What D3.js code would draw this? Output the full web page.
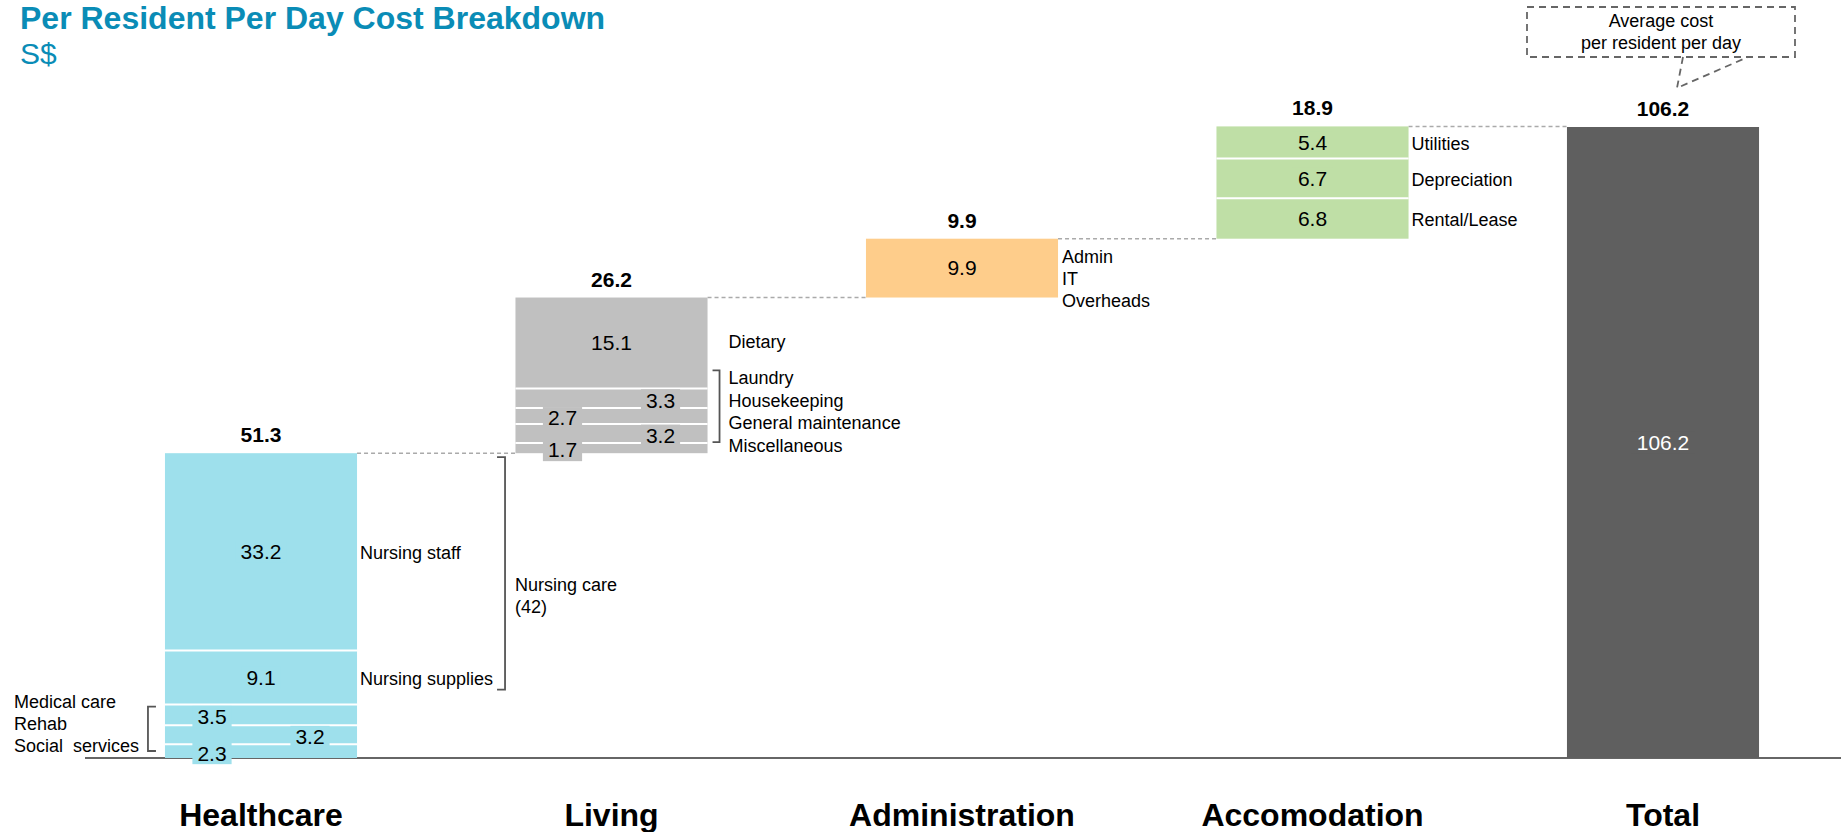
<!DOCTYPE html>
<html><head><meta charset="utf-8">
<script src="https://cdn.jsdelivr.net/npm/d3@7"></script>
<style>
html,body{margin:0;padding:0;background:#fff;}
svg text{font-family:"Liberation Sans",Arial,Helvetica,sans-serif;white-space:pre;}
</style></head>
<body><svg id="chart" width="1841" height="832"></svg>
<script>
// ---------- data ----------
const categories = ["Healthcare","Living","Administration","Accomodation","Total"];
const totals = [51.3, 26.2, 9.9, 18.9, 106.2];
// segment values, bottom to top
const healthcareValues = [2.3, 3.2, 3.5, 9.1, 33.2];
const livingValues = [1.7, 3.2, 2.7, 3.3, 15.1];
const adminValues = [9.9];
const accomValues = [6.8, 6.7, 5.4];
const totalValues = [106.2];
// side labels per segment (bottom to top); "" = none
const healthcareLabels = ["", "", "", "Nursing supplies", "Nursing staff"];
const healthcareLeftGroup = ["Medical care", "Rehab", "Social  services"];
const nursingCareLabel = ["Nursing care", "(42)"];
const livingLabels = ["", "", "", "", "Dietary"];
const livingGroup = ["Laundry", "Housekeeping", "General maintenance", "Miscellaneous"];
const adminGroup = ["Admin", "IT", "Overheads"];
const accomLabels = ["Rental/Lease", "Depreciation", "Utilities"];
const calloutText = ["Average cost", "per resident per day"];
const titleText = "Per Resident Per Day Cost Breakdown";
const unitText = "S$";
const colors = ["#9ee0ec", "#c0c0c0", "#fecd8b", "#bfdfa6", "#5f5f5f"];

// ---------- setup ----------
const svg = d3.select("#chart");
const x = d3.scaleBand().domain(categories).range([85.75, 1838.25]).paddingInner(0.452).paddingOuter(0.226);
const y = d3.scaleLinear().domain([0, 106.2]).range([758, 127]);
const bw = x.bandwidth();
const FS = 21, LS = 18;

// title
svg.append("text").attr("x", 20).attr("y", 29).attr("font-size", 32).attr("font-weight", "bold")
  .attr("fill", "#0a8cb6").text(titleText);
svg.append("text").attr("x", 20).attr("y", 64).attr("font-size", 30).attr("fill", "#0a8cb6").text(unitText);

// baseline
svg.append("line").attr("x1", 85).attr("x2", 1841).attr("y1", y(0)).attr("y2", y(0))
  .attr("stroke", "#666").attr("stroke-width", 2);

// compute bases
const segs = [healthcareValues, livingValues, adminValues, accomValues, totalValues];
const bases = [];
let cum = 0;
categories.forEach((c, i) => {
  if (i === categories.length - 1) { bases.push(0); }
  else { bases.push(cum); cum += totals[i]; }
});
const tops = categories.map((c, i) => bases[i] + totals[i]);

// connectors
for (let i = 0; i < categories.length - 1; i++) {
  svg.append("line")
    .attr("x1", x(categories[i]) + bw).attr("x2", x(categories[i + 1]))
    .attr("y1", y(tops[i])).attr("y2", y(tops[i]))
    .attr("stroke", "#aaa").attr("stroke-width", 1.5).attr("stroke-dasharray", "4,3");
}

const labelLayer = [];
categories.forEach((cat, i) => {
  const g = svg.append("g");
  const vals = segs[i];
  let b = bases[i];
  const items = [];
  let smallIdx = 0;
  vals.forEach((v, j) => {
    const y0 = b, y1 = (j === vals.length - 1) ? tops[i] : b + v;
    items.push({ v, y0, y1, small: v < 4, side: v < 4 ? (smallIdx++ % 2 === 0 ? -1 : 1) : 0 });
    b += v;
  });
  g.selectAll("rect.seg").data(items).join("rect").attr("class", "seg")
    .attr("x", x(cat)).attr("width", bw)
    .attr("y", d => y(d.y1)).attr("height", d => y(d.y0) - y(d.y1))
    .attr("fill", colors[i]);
  // white separators
  g.selectAll("line.sep").data(items.slice(1)).join("line").attr("class", "sep")
    .attr("x1", x(cat)).attr("x2", x(cat) + bw)
    .attr("y1", d => y(d.y0)).attr("y2", d => y(d.y0))
    .attr("stroke", "#fff").attr("stroke-width", 2);
  labelLayer.push({ g, items, i, cat });
});

// value labels with background boxes
labelLayer.forEach(({ g, items, i, cat }) => {
  const cx = x(cat) + bw / 2;
  items.forEach(d => {
    const lx = cx + d.side * 49;
    const ly = (y(d.y0) + y(d.y1)) / 2 + (d.small ? 2 : 0);
    const t = g.append("text").attr("x", lx).attr("y", ly).attr("dy", "0.35em")
      .attr("text-anchor", "middle").attr("font-size", FS)
      .attr("fill", i === 4 ? "#fff" : "#000").text(d3.format(".1f")(d.v));
    const w = t.node().getComputedTextLength() + 10;
    g.insert("rect", () => t.node()).attr("x", lx - w / 2).attr("y", ly - 11)
      .attr("width", w).attr("height", 22).attr("fill", colors[i]);
  });
  // total above
  svg.append("text").attr("x", cx).attr("y", y(tops[i]) - 11).attr("text-anchor", "middle")
    .attr("font-size", FS).attr("font-weight", "bold").text(d3.format(".1f")(totals[i]));
});

// category axis
const axis = svg.append("g").attr("transform", `translate(0,${y(0)})`)
  .call(d3.axisBottom(x).tickSize(0));
axis.select(".domain").remove();
axis.selectAll("text").attr("y", 68).attr("dy", 0).attr("font-size", 32).attr("font-weight", "bold")
  .attr("fill", "#000").style("font-family", '"Liberation Sans",Arial,sans-serif');

function sideText(xp, yp, txt, anchor) {
  return svg.append("text").attr("x", xp).attr("y", yp).attr("font-size", LS)
    .attr("text-anchor", anchor || "start").attr("fill", "#000").text(txt);
}
function segCenter(valsArr, base, j) {
  const y0 = base + d3.sum(valsArr.slice(0, j));
  return (y(y0) + y(y0 + valsArr[j])) / 2;
}
const bracketStroke = "#555";

// Healthcare side labels
{
  const xr = x("Healthcare") + bw;
  healthcareLabels.forEach((t, j) => {
    if (t) sideText(xr + 3, segCenter(healthcareValues, 0, j) + 1, t).attr("dy", "0.35em");
  });
  // nursing care bracket
  const bx = xr + 148, top = y(totals[0]) + 4, bot = y(healthcareValues[0] + healthcareValues[1] + healthcareValues[2]) - 15;
  svg.append("path").attr("d", `M${bx - 8},${top}H${bx}V${bot}H${bx - 8}`)
    .attr("fill", "none").attr("stroke", bracketStroke).attr("stroke-width", 1.8);
  nursingCareLabel.forEach((t, k) => sideText(bx + 10, (top + bot) / 2 + 18 + k * 22, t));
  // left group
  const xl = x("Healthcare");
  const ltop = y(healthcareValues[0] + healthcareValues[1] + healthcareValues[2]) + 2, lbot = y(0) - 7;
  svg.append("path").attr("d", `M${xl - 9},${ltop}H${xl - 17}V${lbot}H${xl - 9}`)
    .attr("fill", "none").attr("stroke", bracketStroke).attr("stroke-width", 1.8);
  healthcareLeftGroup.forEach((t, k) => sideText(14, ltop + 1 + k * 22.4, t));
}

// Living side labels
{
  const xr = x("Living") + bw;
  const base = bases[1];
  livingLabels.forEach((t, j) => {
    if (t) sideText(xr + 21, segCenter(livingValues, base, j) - 2, t).attr("dy", "0.35em");
  });
  const dietBottom = y(base + d3.sum(livingValues.slice(0, 4)));
  const top = dietBottom - 18, bot = y(base) - 11;
  svg.append("path").attr("d", `M${xr + 5},${top}H${xr + 12}V${bot}H${xr + 5}`)
    .attr("fill", "none").attr("stroke", bracketStroke).attr("stroke-width", 1.8);
  livingGroup.forEach((t, k) => sideText(xr + 21, dietBottom - 4 + k * 22.4, t));
}

// Administration labels
{
  const xr = x("Administration") + bw;
  const top = y(tops[2]);
  adminGroup.forEach((t, k) => sideText(xr + 4, top + 18 + k * 22, t).attr("dy", "0.35em"));
}

// Accomodation labels
{
  const xr = x("Accomodation") + bw;
  accomLabels.forEach((t, j) => sideText(xr + 3, segCenter(accomValues, bases[3], j) + 1, t).attr("dy", "0.35em"));
}

// Callout
{
  const cx = x("Total") + bw / 2;
  const bx0 = cx - 136, bx1 = cx + 132, by0 = 7, by1 = 57;
  svg.append("rect").attr("x", bx0).attr("y", by0).attr("width", bx1 - bx0).attr("height", by1 - by0)
    .attr("fill", "none").attr("stroke", "#666").attr("stroke-width", 1.8).attr("stroke-dasharray", "7,5");
  const tipX = cx + 14, tipY = y(totals[4]) - 39;
  svg.append("path").attr("d", `M${cx + 20},${by1}L${tipX},${tipY}L${cx + 85},${by1}`)
    .attr("fill", "none").attr("stroke", "#666").attr("stroke-width", 1.8).attr("stroke-dasharray", "7,5");
  calloutText.forEach((t, k) => svg.append("text").attr("x", (bx0 + bx1) / 2).attr("y", 27 + k * 22)
    .attr("text-anchor", "middle").attr("font-size", LS).attr("fill", "#000").text(t));
}
</script></body></html>
